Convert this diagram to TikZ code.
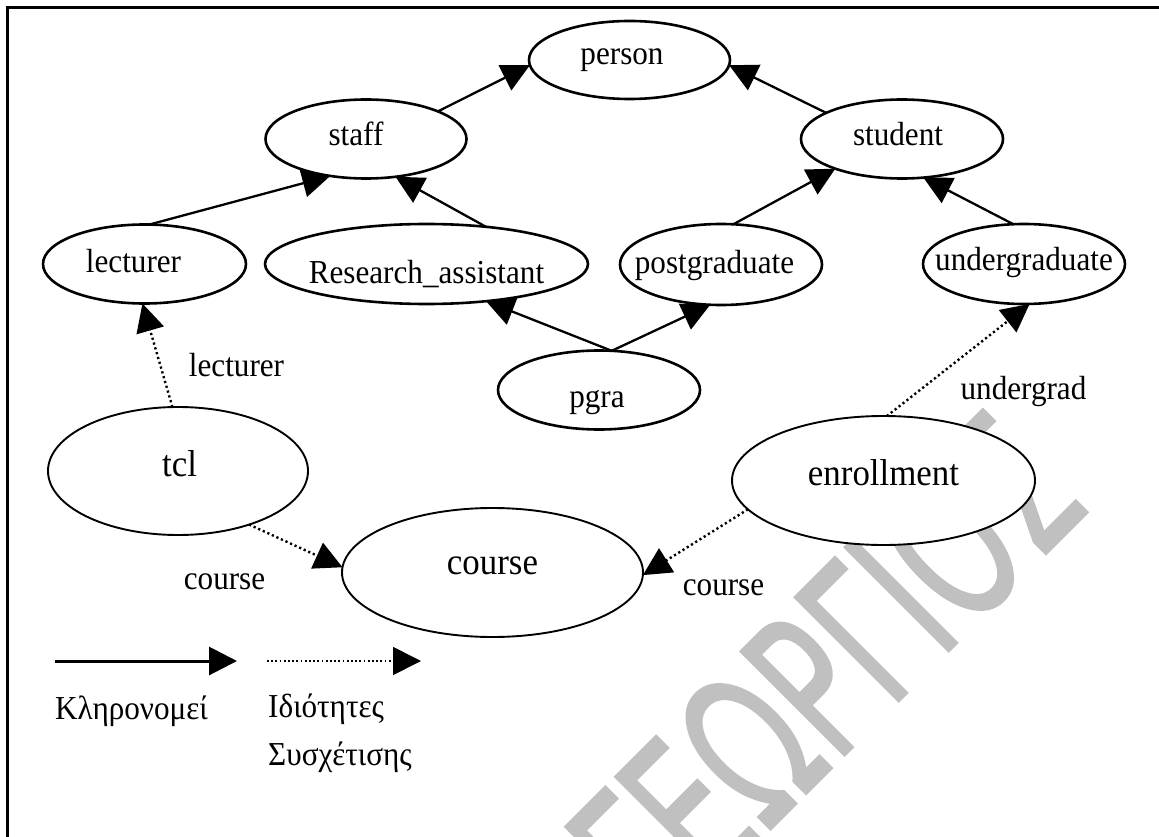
\documentclass[tikz,border=0pt]{standalone}
\usepackage{graphicx}
\usepackage{fontspec}
\setmainfont{Liberation Serif}[FakeStretch=0.93]
\newfontfamily\wmfont{DejaVu Sans}[FakeBold=1.2]
\usetikzlibrary{arrows.meta,shapes.geometric}
\definecolor{wmgray}{RGB}{192,192,192}
% text inside an ellipse: #1 horizontal shift, #2 drop of the baseline below the centre
\newcommand\eltext[3]{\makebox[0pt]{\hspace*{#1}\raisebox{-#2}[0pt][0pt]{#3}\hspace*{-#1}}}
\begin{document}
\begin{tikzpicture}[x=1pt, y=-1pt,
  ent/.style={ellipse, draw, fill=white, line width=2.6pt, inner sep=0pt, outer sep=0pt,
    font=\fontsize{33.5}{38}\selectfont},
  bigent/.style={ent, line width=1.9pt, font=\fontsize{37.5}{42}\selectfont},
  tip/.style={-{Triangle[length=28pt,width=28pt]}},
  isa/.style={tip, line width=2.3pt},
  rel/.style={tip, line width=2.4pt, dash pattern=on 2.2pt off 2.8pt},
  elabel/.style={inner sep=0pt, anchor=base, font=\fontsize{33.5}{38}\selectfont},
]
\useasboundingbox (0,0) rectangle (1159,837);

% watermark
\node[anchor=base west, rotate=45, inner sep=0pt, text=wmgray,
  font=\wmfont\fontsize{201.6}{210}\selectfont] (wm) at (660,940)
  {\scalebox{0.63}[1]{ΓΕΩΡΓΙΟΣ}};

% frame
\draw[line width=2.5pt] (7.5,850) -- (7.5,7.5) -- (1170,7.5) -- (1170,850);

% classes
\node[ent, minimum width=201pt, minimum height=78pt] (person) at (629.5,60) {\eltext{-7.5pt}{5pt}{person}};
\node[ent, minimum width=201pt, minimum height=79pt] (staff) at (366,139) {\eltext{-10pt}{7pt}{staff}};
\node[ent, minimum width=202pt, minimum height=79pt] (student) at (902,139) {\eltext{-4pt}{7pt}{student}};
\node[ent, minimum width=203pt, minimum height=79pt] (lecturer) at (144.5,264) {\eltext{-11pt}{8pt}{lecturer}};
\node[ent, minimum width=323pt, minimum height=80pt] (ra) at (426.5,264) {\eltext{0pt}{19pt}{Research\_assistant}};
\node[ent, minimum width=202pt, minimum height=81pt] (pg) at (721,264.5) {\eltext{-6.5pt}{9pt}{postgraduate}};
\node[ent, minimum width=202pt, minimum height=80pt] (ug) at (1024,264) {\eltext{0pt}{6pt}{undergraduate}};
\node[ent, minimum width=202pt, minimum height=79pt] (pgra) at (599,390) {\eltext{-2pt}{17pt}{pgra}};
\node[bigent, minimum width=260pt, minimum height=128pt] (tcl) at (178,471) {\eltext{1.5pt}{5pt}{tcl}};
\node[bigent, minimum width=301pt, minimum height=129pt] (course) at (492.5,572.5) {\eltext{0pt}{2pt}{course}};
\node[bigent, minimum width=303pt, minimum height=129pt] (enrollment) at (883.5,480.5) {\eltext{0pt}{4.5pt}{enrollment}};

% inheritance
\draw[isa] (staff.21) -- (person.183);
\draw[isa] (student.161) -- (person.357);
\draw[isa] (lecturer.83) -- (staff.226);
\draw[isa] (ra.32) -- (staff.308);
\draw[isa] (pg.73) -- (student.204);
\draw[isa] (ug.105) -- (student.299);
\draw[isa] (pgra.72) -- (ra.328);
\draw[isa] (pgra.72) -- (pg.255);

% relationship properties
\draw[rel] (tcl.95) -- (lecturer.267);
\draw[rel] (tcl.323) -- (course.178);
\draw[rel] (enrollment.192) -- (course.359);
\draw[rel] (enrollment.87) -- (ug.278);

\node[elabel] (lbl-lect) at (236.5,376) {lecturer};
\node[elabel] (lbl-course1) at (224.5,589) {course};
\node[elabel] (lbl-course2) at (723.5,595) {course};
\node[elabel] (lbl-ug) at (1023.5,399) {undergrad};

% legend
\coordinate (legA) at (55,661);
\coordinate (legB) at (237,661);
\coordinate (legC) at (267,661);
\coordinate (legD) at (421,661);
\draw[isa, line width=3pt] (legA) -- (legB);
\draw[rel, line width=1.7pt, dash pattern=on 1.7pt off 2.5pt] (legC) -- (legD);
\node[elabel, anchor=base west] (leg1) at (55,719) {Κληρονομεί};
\node[elabel, anchor=base west] (leg2) at (268,717) {Ιδιότητες};
\node[elabel, anchor=base west] (leg3) at (268,765) {Συσχέτισης};
\end{tikzpicture}
\end{document}
